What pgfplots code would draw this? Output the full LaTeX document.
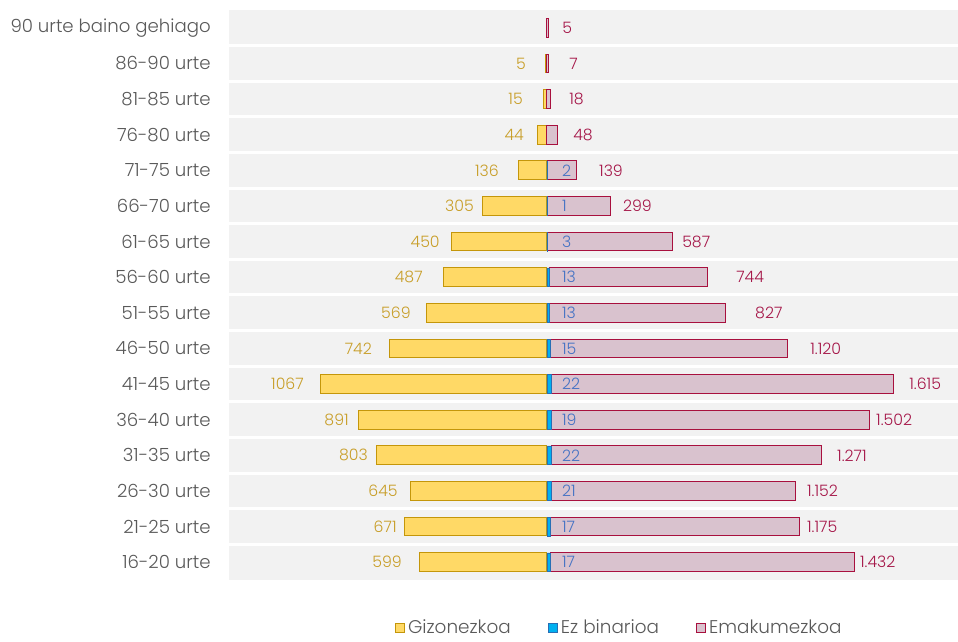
\documentclass[border=0pt]{standalone}
\usepackage{fontspec}
\setmainfont{Poppins Light}
\usepackage{pgfplots}
\pgfplotsset{compat=1.18}
\definecolor{mfill}{RGB}{255,217,102}
\definecolor{mdraw}{RGB}{196,150,10}
\definecolor{mtext}{RGB}{200,158,40}
\definecolor{wfill}{RGB}{217,194,206}
\definecolor{wdraw}{RGB}{168,16,62}
\definecolor{wtext}{RGB}{165,22,72}
\definecolor{nfill}{RGB}{0,176,240}
\definecolor{ndraw}{RGB}{40,110,180}
\definecolor{ntext}{RGB}{68,114,196}
\definecolor{bg}{RGB}{242,242,242}
\definecolor{txt}{RGB}{89,89,89}
\newcommand\lbl{\fontsize{11.8}{13}\selectfont}
\newcommand\tlbl{\fontsize{13.6}{15}\selectfont}
\newcommand\lglbl{\fontsize{13.8}{15}\selectfont}
\pgfplotsset{
  common/.style={scale only axis, width=546.75pt, height=427.5pt,
    xmin=-1500, xmax=1939, ymin=-0.5, ymax=15.5,
    xtick=\empty, ytick=\empty, axis line style={draw=none},
    clip=false, at={(0,0)}, anchor=south west,
    /pgf/number format/assume math mode=true},
  sq/.style={legend image code/.code={\draw[##1,line width=0.75pt] (0pt,-3.4pt) rectangle (6.8pt,3.4pt);}}
}
\begin{document}
\begin{tikzpicture}
\begin{axis}[common, name=main,
  axis background/.style={fill=bg},
  ytick={0,...,15},
  yticklabels={16-20 urte,21-25 urte,26-30 urte,31-35 urte,36-40 urte,41-45 urte,46-50 urte,51-55 urte,56-60 urte,61-65 urte,66-70 urte,71-75 urte,76-80 urte,81-85 urte,86-90 urte,90 urte baino gehiago},
  major tick length=0pt, minor tick length=0pt,
  yticklabel style={font=\tlbl, text=txt, inner sep=0pt, xshift=-13.5pt},
  minor ytick={0.5,1.5,...,14.5}, yminorgrids,
  minor grid style={white, line width=2.25pt}]
\addplot[xbar, bar width=14pt, bar shift=0pt, fill=mfill, draw=mdraw, line width=0.75pt]
 coordinates {(-599,0) (-671,1) (-645,2) (-803,3) (-891,4) (-1067,5) (-742,6) (-569,7) (-487,8) (-450,9) (-305,10) (-136,11) (-44,12) (-15,13) (-5,14)};
\end{axis}
\begin{axis}[common, xbar stacked, bar width=14pt,
  legend style={at={(0.536,-0.084)}, anchor=center, draw=none, fill=none,
    legend columns=3, font=\lglbl, text=txt,
    /tikz/every even column/.append style={column sep=26pt}}]
\addlegendimage{sq, fill=mfill, draw=mdraw}
\addlegendentry{Gizonezkoa}
\addplot[sq, fill=nfill, draw=ndraw, line width=0.5pt]
 coordinates {(17,0) (17,1) (21,2) (22,3) (19,4) (22,5) (15,6) (13,7) (13,8) (3,9) (1,10) (2,11) (0,12) (0,13) (0,14) (0,15)};
\addlegendentry{Ez binarioa}
\addplot[sq, fill=wfill, draw=wdraw, line width=0.75pt]
 coordinates {(1432,0) (1175,1) (1152,2) (1271,3) (1502,4) (1615,5) (1120,6) (827,7) (744,8) (587,9) (299,10) (139,11) (48,12) (18,13) (7,14) (5,15)};
\addlegendentry{Emakumezkoa}
\end{axis}
\begin{axis}[common]
\addplot[draw=none, nodes near coords, point meta=explicit symbolic,
  nodes near coords style={anchor=east, inner sep=0pt, text=mtext, font=\lbl}]
 table[meta=l] {
x y l
-99 14 5
-113 13 15
-108 12 44
-226 11 136
-344 10 305
-505 9 450
-585 8 487
-642 7 569
-825 6 742
-1146 5 1067
-934 4 891
-844 3 803
-703 2 645
-708 1 671
-684 0 599
};
\addplot[draw=none, nodes near coords, point meta=explicit symbolic,
  nodes near coords style={anchor=west, inner sep=0pt, text=wtext, font=\lbl}]
 table[meta=l] {
x y l
71 15 5
104 14 7
104 13 18
123 12 48
245 11 139
358 10 299
637 9 587
892 8 744
981 7 827
1241 6 1.120
1708 5 1.615
1552 4 1.502
1368 3 1.271
1226 2 1.152
1226 1 1.175
1476 0 1.432
};
\addplot[draw=none, nodes near coords, point meta=explicit symbolic,
  nodes near coords style={anchor=west, inner sep=0pt, text=ntext, font=\lbl}]
 table[meta=l] {
x y l
70 11 2
70 10 1
70 9 3
70 8 13
70 7 13
70 6 15
70 5 22
70 4 19
70 3 22
70 2 21
70 1 17
70 0 17
};
\end{axis}
\pgfresetboundingbox
\path ([xshift=-171.75pt,yshift=-46.5pt]main.south west) rectangle ([yshift=7.5pt]main.north east);
\end{tikzpicture}
\end{document}
